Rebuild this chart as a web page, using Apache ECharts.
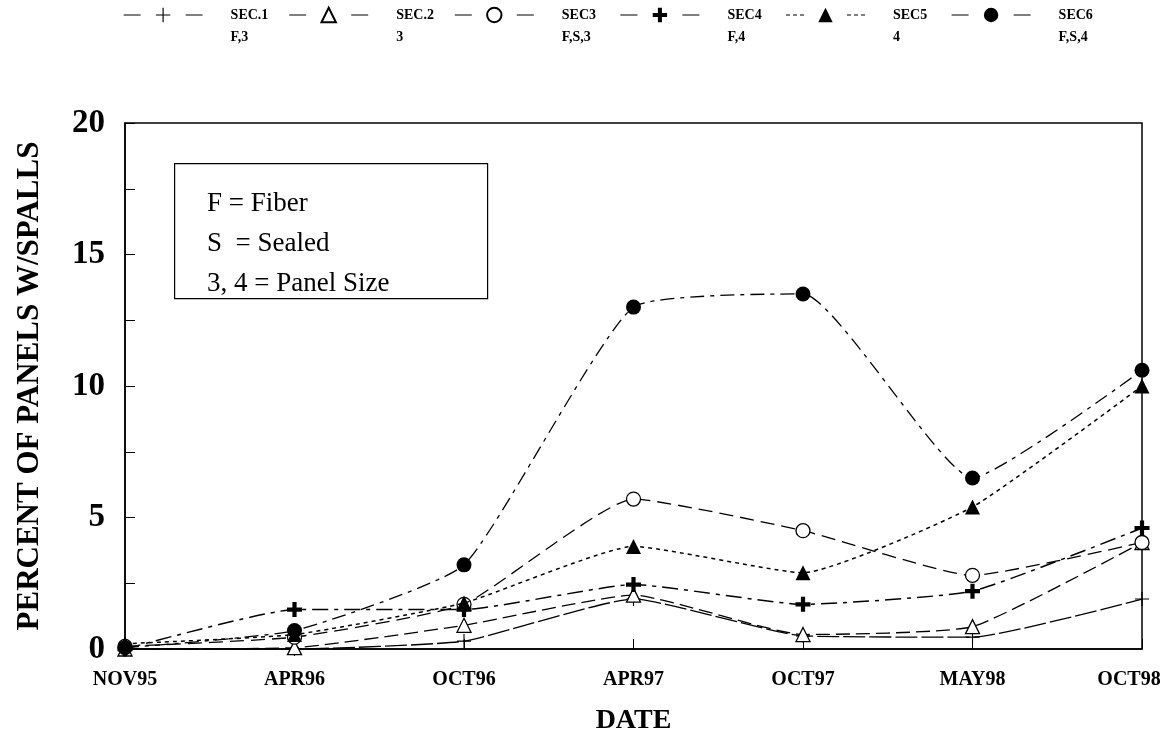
<!DOCTYPE html>
<html>
<head>
<meta charset="utf-8">
<script src="https://cdn.jsdelivr.net/npm/echarts@6/dist/echarts.min.js"></script>
<style>html,body{margin:0;padding:0;background:#fff;}#c{width:1173px;height:751px;}</style>
</head>
<body>
<div id="c"></div>
<script>
const categories = ['NOV95','APR96','OCT96','APR97','OCT97','MAY98','OCT98'];
const seriesNames = ['SEC.1','SEC.2','SEC3','SEC4','SEC5','SEC6'];
const seriesSubtitles = ['F,3','3','F,S,3','F,4','4','F,S,4'];
const sec1 = [0, 0, 0.3, 1.9, 0.5, 0.45, 1.9];
const sec2 = [0, 0.05, 0.9, 2.05, 0.55, 0.85, 4.05];
const sec3 = [0.1, 0.45, 1.7, 5.7, 4.5, 2.8, 4.05];
const sec4 = [0, 1.5, 1.5, 2.45, 1.7, 2.2, 4.6];
const sec5 = [0.2, 0.55, 1.75, 3.9, 2.9, 5.4, 10.0];
const sec6 = [0.05, 0.7, 3.2, 13.0, 13.5, 6.5, 10.6];
const yTicks = [0, 5, 10, 15, 20];
const notes = ['F = Fiber', 'S  = Sealed', '3, 4 = Panel Size'];

const SERIF = '"Liberation Serif", "DejaVu Serif", serif';
const thinPlus = 'path://M4.6,0 H5.4 V4.6 H10 V5.4 H5.4 V10 H4.6 V5.4 H0 V4.6 H4.6 Z';
const boldPlus = 'path://M3.6,0 H6.4 V3.6 H10 V6.4 H6.4 V10 H3.6 V6.4 H0 V3.6 H3.6 Z';

const styles = [
  {data: sec1, symbol: thinPlus, size: 14, fill: '#000', dash: [22, 4], width: 1.3},
  {data: sec2, symbol: 'triangle', size: 14, fill: '#fff', dash: [14, 6], width: 1.3},
  {data: sec3, symbol: 'circle', size: 14, fill: '#fff', dash: [14, 7], width: 1.3},
  {data: sec4, symbol: boldPlus, size: 15, fill: '#000', dash: [16, 6, 4, 6], width: 1.5},
  {data: sec5, symbol: 'triangle', size: 15, fill: '#000', dash: [4, 4], width: 1.5},
  {data: sec6, symbol: 'circle', size: 15, fill: '#000', dash: [14, 6, 4, 6], width: 1.3}
];
const legendDash = [
  [17, 45, 17], [17, 45, 17], [17, 45, 17], [17, 45, 17],
  [4, 3, 4, 3, 4, 43, 4, 3, 4, 3, 4], [17, 45, 17]
];

const series = styles.map((s, i) => ({
  name: seriesNames[i],
  type: 'line',
  data: s.data,
  smooth: 0.15,
  symbol: s.symbol,
  symbolSize: s.size,
  showAllSymbol: true,
  z: 2 + i,
  lineStyle: {color: '#000', width: s.width, type: s.dash},
  itemStyle: {color: s.fill, borderColor: '#000', borderWidth: s.fill === '#fff' ? 1.3 : 0}
}));

const chart = echarts.init(document.getElementById('c'));
chart.setOption({
  animation: false,
  backgroundColor: '#fff',
  legend: {
    left: 123,
    top: -18,
    padding: 0,
    itemWidth: 79,
    itemHeight: 18,
    itemGap: 13,
    data: seriesNames.map((n, i) => ({
      name: n,
      lineStyle: {type: legendDash[i], width: 1.2, color: '#000'}
    })),
    formatter: function (name) {
      const i = seriesNames.indexOf(name);
      return ' \n' + name + '\n' + seriesSubtitles[i];
    },
    textStyle: {
      fontFamily: SERIF,
      fontWeight: 'bold',
      fontSize: 14,
      color: '#000',
      lineHeight: 22,
      width: 45,
      padding: [0, 0, 0, 23]
    }
  },
  grid: {
    left: 125, right: 31, top: 123, bottom: 102,
    outerBoundsMode: 'none',
    containLabel: false,
    show: true, borderColor: '#000', borderWidth: 1.5, backgroundColor: 'transparent'
  },
  xAxis: {
    type: 'category',
    data: categories,
    boundaryGap: false,
    name: 'DATE',
    nameLocation: 'middle',
    nameGap: 58,
    nameTextStyle: {fontFamily: SERIF, fontWeight: 'bold', fontSize: 28, color: '#000'},
    axisLine: {lineStyle: {color: '#000', width: 1.5}},
    axisTick: {show: true, inside: true, length: 10, alignWithLabel: true, lineStyle: {color: '#000'}},
    axisLabel: {
      fontFamily: SERIF, fontWeight: 'bold', fontSize: 20, color: '#000', margin: 21, interval: 0,
      formatter: function (v, idx) {
        return idx === categories.length - 1 ? '{last|' + v + '}' : v;
      },
      rich: {last: {fontFamily: SERIF, fontWeight: 'bold', fontSize: 20, color: '#000', padding: [0, 26, 0, 0]}}
    },
    splitLine: {show: false}
  },
  yAxis: {
    type: 'value',
    min: yTicks[0],
    max: yTicks[yTicks.length - 1],
    interval: 5,
    name: 'PERCENT OF PANELS W/SPALLS',
    nameLocation: 'middle',
    nameGap: 80,
    nameRotate: 90,
    nameTextStyle: {fontFamily: SERIF, fontWeight: 'bold', fontSize: 31, color: '#000'},
    axisLine: {show: true, lineStyle: {color: '#000', width: 1.5}},
    axisTick: {show: true, inside: true, length: 10, lineStyle: {color: '#000'}},
    minorTick: {show: true, splitNumber: 2, length: 10, lineStyle: {color: '#000'}},
    axisLabel: {fontFamily: SERIF, fontWeight: 'bold', fontSize: 33, color: '#000', margin: 20},
    splitLine: {show: false}
  },
  graphic: [
    {type: 'rect', left: 174, top: 163, shape: {width: 313, height: 135},
     style: {fill: '#fff', stroke: '#000', lineWidth: 1.2}, z: 100},
    {type: 'text', left: 207, top: 184,
     style: {text: notes.join('\n'), font: '27px ' + SERIF, fill: '#000', lineHeight: 40}, z: 101}
  ],
  series: series
});
</script>
</body>
</html>
